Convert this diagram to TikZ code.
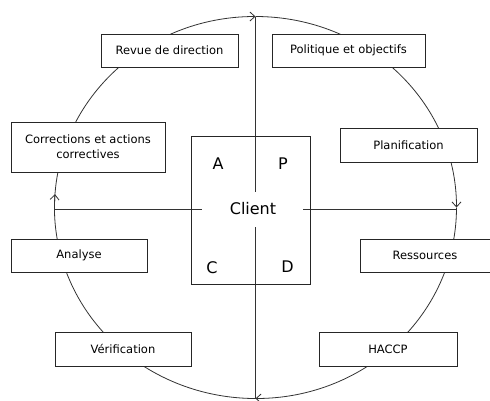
\documentclass[tikz,border=0pt]{standalone}
\usepackage{fontspec}
\setmainfont{DejaVu Sans}
\usetikzlibrary{arrows.meta}
\begin{document}
\begin{tikzpicture}[x=1pt,y=-1pt,
  ln/.style={line width=0.8pt, draw=black!80},
  arr/.style={ln, -{Straight Barb[length=5pt,width=9pt]}},
  box/.style={draw=black!85, line width=0.8pt, fill=white, inner sep=0pt, align=center,
    font=\fontsize{11.5}{15}\selectfont, text=black},
  big/.style={font=\fontsize{16}{18}\selectfont, text=black, inner sep=0pt}]
\useasboundingbox (0,0) rectangle (490,400);
\fill[white] (0,0) rectangle (490,400);
% ellipse key points
\coordinate (L) at (54.5,207.5);
\coordinate (T) at (255.5,16.5);
\coordinate (R) at (456.5,207.5);
\coordinate (B) at (255.5,398.5);
% cycle arcs
\draw[arr] (L) arc[start angle=180, end angle=270, x radius=201, y radius=191];
\draw[arr] (T) arc[start angle=270, end angle=360, x radius=201, y radius=191];
\draw[arr] (R) arc[start angle=0, end angle=90, x radius=201, y radius=191];
\draw[arr] (B) arc[start angle=90, end angle=184, x radius=201, y radius=191];
% axes
\coordinate (vt) at (255,16.5);
\coordinate (vt2) at (255,192);
\coordinate (vb1) at (255,227);
\coordinate (vb) at (255,398.5);
\coordinate (hl) at (55,209);
\coordinate (hl2) at (202,209);
\coordinate (hr1) at (303,209);
\coordinate (hr) at (456.5,209);
\draw[ln] (vt) -- (vt2);
\draw[ln] (vb1) -- (vb);
\draw[ln] (hl) -- (hl2);
\draw[ln] (hr1) -- (hr);
% client box
\node[draw=black!85, line width=0.8pt, minimum width=119pt, minimum height=148pt, inner sep=0pt] (client) at (250.5,210) {};
\node[big, anchor=base] (ct) at (253,214) {Client};
\node[big, anchor=base] (a) at (218,169) {A};
\node[big, anchor=base] (p) at (283,169) {P};
\node[big, anchor=base] (c) at (212,273.5) {C};
\node[big, anchor=base] (d) at (287.5,272) {D};
% step boxes
\node[box, minimum width=137pt, minimum height=33pt] (rev) at (169.5,50.5) {Revue de direction};
\node[box, minimum width=153pt, minimum height=33pt] (pol) at (348.5,50.5) {Politique et objectifs};
\node[box, minimum width=137pt, minimum height=34pt] (plan) at (408.5,145) {Planification};
\node[box, minimum width=154pt, minimum height=50pt] (corr) at (88,147) {Corrections et actions\\correctives};
\node[box, minimum width=136pt, minimum height=33pt] (ana) at (79,255.5) {Analyse};
\node[box, minimum width=136pt, minimum height=34pt] (ver) at (123,349) {Vérification};
\node[box, minimum width=130pt, minimum height=33pt] (res) at (425,255.5) {Ressources};
\node[box, minimum width=138pt, minimum height=34pt] (hac) at (388,349) {HACCP};
\end{tikzpicture}
\end{document}
